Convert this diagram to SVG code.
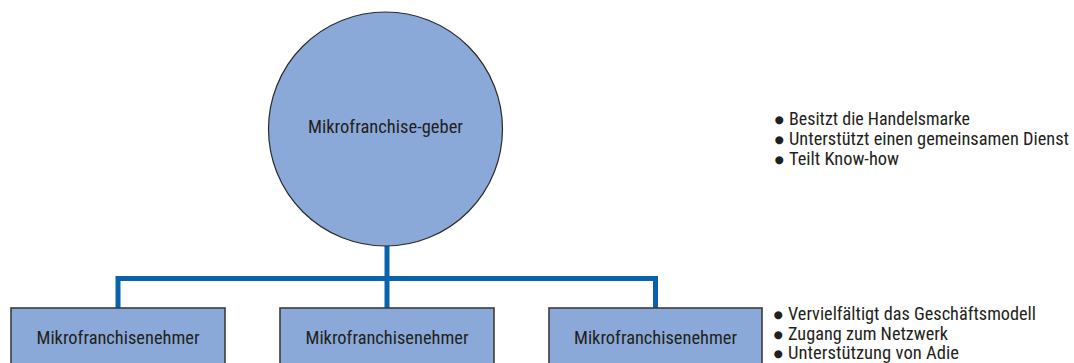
<svg xmlns="http://www.w3.org/2000/svg" width="1074" height="363" viewBox="0 0 1074 363">
  <style>
    .node { fill: #8aa9d8; stroke: #2b2b2b; stroke-width: 1.2; }
    .box { fill: #8aa9d8; stroke: #3c3c3c; stroke-width: 1.6; }
    .lbl { font-family: "Liberation Sans Narrow", "Roboto Condensed", "Liberation Sans", Arial, sans-serif; font-size: 18px; fill: #231f20; }
    .bul { font-family: "DejaVu Sans", sans-serif; font-size: 10.5px; fill: #231f20; }
    .conn { fill: none; stroke: #0a62ad; stroke-width: 5; stroke-linejoin: miter; stroke-linecap: butt; }
  </style>
  <rect width="1074" height="363" fill="#ffffff"/>
  <g id="connectors">
    <path class="conn" d="M387 246 V278.5"/>
    <path class="conn" d="M118 308 V278.5 H655.5 V308"/>
    <path class="conn" d="M387 278.5 V308"/>
  </g>
  <g id="geber">
    <circle class="node" cx="385.5" cy="129" r="117"/>
    <text class="lbl" x="385.5" y="133" text-anchor="middle" textLength="155" lengthAdjust="spacingAndGlyphs">Mikrofranchise-geber</text>
  </g>
  <g id="nehmer1">
    <rect class="box" x="11" y="308" width="214" height="66"/>
    <text class="lbl" x="118" y="344" text-anchor="middle" textLength="163" lengthAdjust="spacingAndGlyphs">Mikrofranchisenehmer</text>
  </g>
  <g id="nehmer2">
    <rect class="box" x="280" y="308" width="214" height="66"/>
    <text class="lbl" x="387" y="344" text-anchor="middle" textLength="163" lengthAdjust="spacingAndGlyphs">Mikrofranchisenehmer</text>
  </g>
  <g id="nehmer3">
    <rect class="box" x="549" y="308" width="213" height="66"/>
    <text class="lbl" x="655.5" y="344" text-anchor="middle" textLength="163" lengthAdjust="spacingAndGlyphs">Mikrofranchisenehmer</text>
  </g>
  <g id="geber-notes">
    <text class="bul" x="779" y="122.5" text-anchor="middle">●</text>
    <text class="lbl" x="789" y="124.5" textLength="181" lengthAdjust="spacingAndGlyphs">Besitzt die Handelsmarke</text>
    <text class="bul" x="779" y="142.5" text-anchor="middle">●</text>
    <text class="lbl" x="789" y="144.5" textLength="280" lengthAdjust="spacingAndGlyphs">Unterstützt einen gemeinsamen Dienst</text>
    <text class="bul" x="779" y="162.5" text-anchor="middle">●</text>
    <text class="lbl" x="789" y="164.5" textLength="110" lengthAdjust="spacingAndGlyphs">Teilt Know-how</text>
  </g>
  <g id="nehmer-notes">
    <text class="bul" x="778" y="318" text-anchor="middle">●</text>
    <text class="lbl" x="788" y="320" textLength="248" lengthAdjust="spacingAndGlyphs">Vervielfältigt das Geschäftsmodell</text>
    <text class="bul" x="778" y="337.5" text-anchor="middle">●</text>
    <text class="lbl" x="788" y="339.5" textLength="160" lengthAdjust="spacingAndGlyphs">Zugang zum Netzwerk</text>
    <text class="bul" x="778" y="357" text-anchor="middle">●</text>
    <text class="lbl" x="788" y="359" textLength="171" lengthAdjust="spacingAndGlyphs">Unterstützung von Adie</text>
  </g>
</svg>
